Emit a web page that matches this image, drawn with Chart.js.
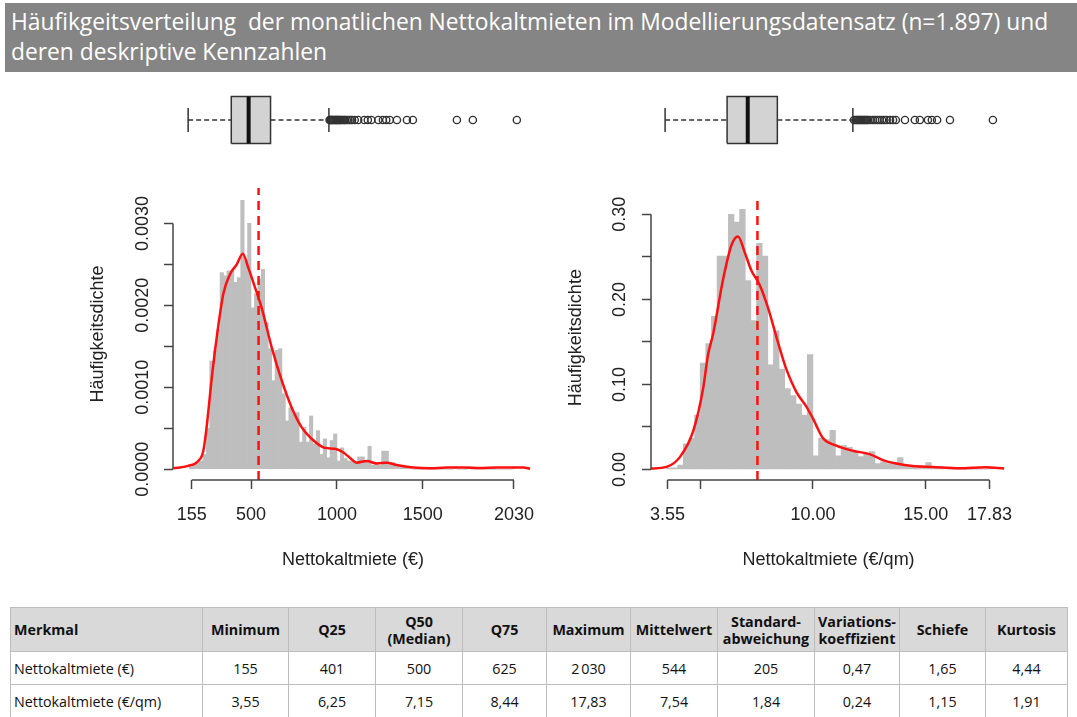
<!DOCTYPE html>
<html lang="de">
<head>
<meta charset="utf-8">
<title>Häufigkeitsverteilung Nettokaltmieten</title>
<script src="https://cdn.jsdelivr.net/npm/chart.js@4.4.1/dist/chart.umd.min.js"></script>
<style>
  body { margin:0; background:#fff; width:1077px; height:717px; position:relative; overflow:hidden; }
  #title { position:absolute; left:5px; top:3px; width:1072px; height:69px; box-sizing:border-box; padding:4px 0 0 6px;
           background:#858585; color:#fff; font-family:"Open Sans", sans-serif; font-size:22.8px; line-height:30px; white-space:pre; }
  canvas { position:absolute; }
  #stats { position:absolute; left:10px; top:607px; border-collapse:collapse; table-layout:fixed;
           font-family:"Open Sans", sans-serif; font-size:14.3px; color:#111; }
  #stats td, #stats th { border:1.5px solid #bdbdbd; text-align:center; padding:0 3px; }
  #stats th { background:#d9d9d9; height:43px; font-weight:bold; line-height:17px; }
  #stats td { height:32px; }
  #stats .l { text-align:left; }
</style>
</head>
<body>
<div id="title">Häufikgeitsverteilung  der monatlichen Nettokaltmieten im Modellierungsdatensatz (n=1.897) und
deren deskriptive Kennzahlen</div>

<canvas id="boxEur" width="355" height="60" style="left:175px;top:90px"></canvas>
<canvas id="boxQm" width="354" height="60" style="left:652px;top:90px"></canvas>
<canvas id="histEur" width="490" height="400" style="left:60px;top:180px"></canvas>
<canvas id="histQm" width="490" height="400" style="left:538px;top:180px"></canvas>

<table id="stats">
  <colgroup>
    <col style="width:192px"><col style="width:86px"><col style="width:87px"><col style="width:87px"><col style="width:84px">
    <col style="width:84px"><col style="width:87px"><col style="width:97px"><col style="width:84px"><col style="width:86px"><col style="width:82px">
  </colgroup>
  <tr><th class="l">Merkmal</th><th>Minimum</th><th>Q25</th><th>Q50<br>(Median)</th><th>Q75</th><th>Maximum</th><th>Mittelwert</th><th>Standard-<br>abweichung</th><th>Variations-<br>koeffizient</th><th>Schiefe</th><th>Kurtosis</th></tr>
  <tr><td class="l">Nettokaltmiete (€)</td><td>155</td><td>401</td><td>500</td><td>625</td><td>2&#8239;030</td><td>544</td><td>205</td><td>0,47</td><td>1,65</td><td>4,44</td></tr>
  <tr><td class="l">Nettokaltmiete (€/qm)</td><td>3,55</td><td>6,25</td><td>7,15</td><td>8,44</td><td>17,83</td><td>7,54</td><td>1,84</td><td>0,24</td><td>1,15</td><td>1,91</td></tr>
</table>

<script>
// Nettokaltmiete (€): histogram classes (centres, width 20) and density
const eurBins = [150, 170, 190, 210, 230, 250, 270, 290, 310, 330, 350, 370, 390, 410, 430, 450, 470, 490, 510, 530,
  550, 570, 590, 610, 630, 650, 670, 690, 710, 730, 750, 770, 790, 810, 830, 850, 870, 890, 910, 930,
  950, 970, 990, 1010, 1030, 1050, 1070, 1090, 1110, 1130, 1150, 1170, 1190, 1210, 1230, 1250, 1270, 1290, 1310, 1330,
  1350, 1370, 1390, 1410, 1430, 1450, 1470, 1490, 1510, 1530, 1550, 1570, 1590, 1610, 1630, 1650, 1670, 1690, 1710, 1730,
  1750, 1770, 1790, 1810, 1830, 1850, 1870, 1890, 1910, 1930, 1950, 1970, 1990, 2010, 2030];
const eurDensity = [0.00003, 0.00005, 0.00008, 0.0001, 0.00018, 0.0005, 0.00132, 0.00145, 0.0017, 0.0024,
  0.00236, 0.00242, 0.00242, 0.00228, 0.00234, 0.00328, 0.00254, 0.0030, 0.00197, 0.00214,
  0.00232, 0.00244, 0.00179, 0.00147, 0.00108, 0.00145, 0.00147, 0.00092, 0.00059, 0.00075,
  0.00067, 0.00069, 0.00033, 0.00051, 0.00033, 0.00065, 0.00031, 0.00047, 0.00018, 0.00037,
  0.00014, 0.00035, 0.00043, 0.0001, 0.00026, 0.00013, 0.0001, 0.0001, 0.00008, 0.00015,
  0.00015, 0.0001, 0.00028, 0.00005, 0.00008, 0.00005, 0.00022, 0.00022, 0.00008, 0.00008,
  0.00005, 0.00003, 0.00005, 0.00003, 0.00003, 0, 0, 0, 0, 0,
  0, 0, 0, 0, 0, 0, 0, 0.00003, 0, 0,
  0, 0.00003, 0, 0, 0, 0, 0, 0, 0, 0,
  0, 0, 0, 0, 0.00003];
// kernel density estimate (red curve)
const eurKdeX = [47, 134, 193, 222, 241, 270, 300, 339, 378, 417, 452, 484, 523, 562, 620, 679, 737, 795, 853, 930,
  988, 1040, 1075, 1116, 1173, 1232, 1290, 1348, 1445, 1542, 1639, 1740, 1833, 1930, 1988, 2085, 2124];
const eurKdeY = [0.00001, 0.00004, 0.0001, 0.00022, 0.0005, 0.00108, 0.0016, 0.00214, 0.00238, 0.0025,
  0.00263, 0.00246, 0.00222, 0.00197, 0.00149, 0.00108, 0.00075, 0.00051, 0.00037, 0.00026,
  0.00025, 0.0002, 0.00014, 0.00008, 0.0001, 0.00007, 0.00008, 0.00005, 0.00002, 0.00001,
  0.00002, 0.00002, 0.000015, 0.00002, 0.00002, 0.00002, 0.000005];
const eurMean = 544;
const eurXTicks = [155, 500, 1000, 1500, 2030];
const eurXLabels = ['155', '500', '1000', '1500', '2030'];
const eurYTicks = [0, 0.0005, 0.001, 0.0015, 0.002, 0.0025, 0.003];
const eurYLabels = ['0.0000', '', '0.0010', '', '0.0020', '', '0.0030'];
// boxplot: lower whisker, Q25, median, Q75, upper whisker
const eurBox = [155, 401, 500, 625, 958];
const eurOutliers = [962, 966, 970, 975, 980, 985, 990, 995, 1000, 1005, 1010, 1015, 1020, 1025, 1030, 1040, 1045,
  1050, 1060, 1070, 1080, 1090, 1105, 1125, 1160, 1180, 1200, 1240, 1266, 1285, 1305, 1346, 1403, 1437,
  1688, 1779, 2030];

// Nettokaltmiete (€/qm): histogram classes (centres, width 0.25) and density
const qmBins = [3.625, 3.875, 4.125, 4.375, 4.625, 4.875, 5.125, 5.375, 5.625, 5.875,
  6.125, 6.375, 6.625, 6.875, 7.125, 7.375, 7.625, 7.875, 8.125, 8.375,
  8.625, 8.875, 9.125, 9.375, 9.625, 9.875, 10.125, 10.375, 10.625, 10.875,
  11.125, 11.375, 11.625, 11.875, 12.125, 12.375, 12.625, 12.875, 13.125, 13.375,
  13.625, 13.875, 14.125, 14.375, 14.625, 14.875, 15.125, 15.375, 15.625, 15.875,
  16.125, 16.375, 16.625, 16.875, 17.125, 17.375, 17.625, 17.875];
const qmDensity = [0.002, 0.002, 0.005, 0.03, 0.037, 0.064, 0.125, 0.148, 0.18, 0.251,
  0.251, 0.30, 0.291, 0.306, 0.222, 0.175, 0.266, 0.251, 0.123, 0.163,
  0.118, 0.095, 0.087, 0.077, 0.064, 0.135, 0.016, 0.037, 0.035, 0.046,
  0.016, 0.028, 0.026, 0.02, 0.015, 0.018, 0.021, 0.007, 0.009, 0.007,
  0.008, 0.014, 0.004, 0.003, 0.002, 0.002, 0.008, 0.002, 0.0015, 0.0015,
  0, 0, 0, 0, 0, 0, 0, 0.002];
const qmKdeX = [2.77, 3.51, 4.10, 4.69, 5.13, 5.35, 5.58, 6.02, 6.39, 6.68, 6.98, 7.27, 7.64, 8.01, 8.38, 8.67,
  8.82, 9.27, 9.71, 10.0, 10.44, 11.04, 11.77, 12.51, 13.1, 13.69, 14.42, 15.31, 16.49, 17.67, 18.48];
const qmKdeY = [0.001, 0.003, 0.0145, 0.045, 0.095, 0.135, 0.16, 0.224, 0.264, 0.274, 0.255, 0.234, 0.217, 0.19, 0.156, 0.13,
  0.118, 0.091, 0.074, 0.06, 0.037, 0.028, 0.022, 0.018, 0.011, 0.007, 0.004, 0.003, 0.0015, 0.0027, 0.001];
const qmMean = 7.54;
const qmXTicks = [3.55, 5, 10, 15, 17.83];
const qmXLabels = ['3.55', '', '10.00', '15.00', '17.83'];
const qmYTicks = [0, 0.05, 0.1, 0.15, 0.2, 0.25, 0.3];
const qmYLabels = ['0.00', '', '0.10', '', '0.20', '', '0.30'];
const qmBox = [3.55, 6.25, 7.15, 8.44, 11.73];
const qmOutliers = [11.78, 11.85, 11.9, 11.95, 12.0, 12.05, 12.1, 12.15, 12.2, 12.25, 12.3, 12.35, 12.4, 12.5,
  12.6, 12.7, 12.8, 12.9, 13.0, 13.1, 13.2, 13.35, 13.48, 13.6, 14.0, 14.43, 14.65, 15.0, 15.17, 15.4, 15.96, 17.83];

const rFont = '"Liberation Sans", Arial, sans-serif';
const textColor = '#222';
const axisColor = '#444';

// R-style axes: line only from first to last tick
const rAxisLines = {
  id: 'rAxisLines',
  afterDraw(chart) {
    const {ctx, scales: {x, y}} = chart;
    ctx.save();
    ctx.strokeStyle = axisColor;
    ctx.lineWidth = 1.5;
    ctx.beginPath();
    ctx.moveTo(x.getPixelForValue(x.ticks[0].value), x.top);
    ctx.lineTo(x.getPixelForValue(x.ticks[x.ticks.length - 1].value), x.top);
    ctx.moveTo(y.right, y.getPixelForValue(y.ticks[0].value));
    ctx.lineTo(y.right, y.getPixelForValue(y.ticks[y.ticks.length - 1].value));
    ctx.stroke();
    ctx.restore();
  }
};

function histChart(id, o) {
  const font = {family: rFont, size: 18};
  const grid = {offset: false, drawOnChartArea: false, drawTicks: true, tickLength: 9, tickColor: axisColor, tickWidth: 1.5};
  return new Chart(document.getElementById(id), {
    type: 'bar',
    data: {
      datasets: [
        {type: 'line', data: [{x: o.mean, y: o.yMin}, {x: o.mean, y: o.yMax}],
          borderColor: '#ff1010', borderWidth: 2.5, borderDash: [9, 6], pointRadius: 0},
        {type: 'line', data: o.kdeX.map((x, i) => ({x: x, y: o.kdeY[i]})),
          borderColor: '#ff1010', borderWidth: 2.5, pointRadius: 0, cubicInterpolationMode: 'monotone'},
        {type: 'bar', data: o.bins.map((x, i) => ({x: x, y: o.density[i]})),
          backgroundColor: '#bebebe', borderWidth: 0, barPercentage: 1, categoryPercentage: 1}
      ]
    },
    options: {
      responsive: false, animation: false, events: [],
      layout: {autoPadding: false, padding: {top: 8, right: o.padRight, bottom: 0, left: 0}},
      plugins: {legend: {display: false}, tooltip: {enabled: false}},
      scales: {
        x: {
          type: 'linear', min: o.xMin, max: o.xMax, offset: false,
          afterBuildTicks: s => { s.ticks = o.xTicks.map(v => ({value: v})); },
          afterFit: s => { s.height = 100; },
          grid: grid, border: {display: false},
          ticks: {autoSkip: false, maxRotation: 0, padding: 15, color: textColor, font: font,
            callback: (v, i) => o.xLabels[i]},
          title: {display: true, text: o.xTitle, color: textColor, font: font, padding: {top: 0, bottom: 9}}
        },
        y: {
          min: o.yMin, max: o.yMax,
          afterBuildTicks: s => { s.ticks = o.yTicks.map(v => ({value: v})); },
          afterFit: s => { s.width = 113; },
          grid: grid, border: {display: false},
          ticks: {autoSkip: false, minRotation: 90, maxRotation: 90, crossAlign: 'center', padding: o.yPad,
            color: textColor, font: font, callback: (v, i) => o.yLabels[i]},
          title: {display: true, text: 'Häufigkeitsdichte', color: textColor, font: font, padding: {top: 27.5, bottom: 0}}
        }
      }
    },
    plugins: [rAxisLines]
  });
}

function boxChart(id, stats, outliers, xMin, xMax) {
  const [lo, q1, med, q3, hi] = stats;
  const boxHalf = 0.78, capHalf = 0.4;
  const seg = (pts, extra) => Object.assign({data: pts, showLine: true, pointRadius: 0,
    borderColor: '#333', borderWidth: 1.5}, extra || {});
  return new Chart(document.getElementById(id), {
    type: 'scatter',
    data: {
      datasets: [
        {data: outliers.map(x => ({x: x, y: 0})), pointRadius: 3.6, pointBorderWidth: 1.4,
          pointBorderColor: '#333', pointBackgroundColor: 'rgba(0,0,0,0)'},
        seg([{x: med, y: -boxHalf}, {x: med, y: boxHalf}], {borderWidth: 4, borderColor: '#111'}),
        seg([{x: lo, y: -capHalf}, {x: lo, y: capHalf}]),
        seg([{x: hi, y: -capHalf}, {x: hi, y: capHalf}]),
        seg([{x: lo, y: 0}, {x: q1, y: 0}], {borderDash: [5, 3]}),
        seg([{x: q3, y: 0}, {x: hi, y: 0}], {borderDash: [5, 3]}),
        seg([{x: q1, y: -boxHalf}, {x: q3, y: -boxHalf}, {x: q3, y: boxHalf}, {x: q1, y: boxHalf}, {x: q1, y: -boxHalf}],
          {fill: 'shape', backgroundColor: '#d3d3d3'})
      ]
    },
    options: {
      responsive: false, animation: false, events: [],
      layout: {autoPadding: false, padding: 0},
      plugins: {legend: {display: false}, tooltip: {enabled: false}},
      scales: {
        x: {type: 'linear', min: xMin, max: xMax, display: false},
        y: {type: 'linear', min: -1, max: 1, display: false}
      }
    }
  });
}

boxChart('boxEur', eurBox, eurOutliers, 80, 2105);
boxChart('boxQm', qmBox, qmOutliers, 2.979, 18.401);

histChart('histEur', {
  bins: eurBins, density: eurDensity, kdeX: eurKdeX, kdeY: eurKdeY, mean: eurMean,
  xTicks: eurXTicks, xLabels: eurXLabels, yTicks: eurYTicks, yLabels: eurYLabels,
  xMin: 46, xMax: 2141, yMin: -0.000132, yMax: 0.003432, padRight: 17, yPad: -6.5,
  xTitle: 'Nettokaltmiete (€)'
});
histChart('histQm', {
  bins: qmBins, density: qmDensity, kdeX: qmKdeX, kdeY: qmKdeY, mean: qmMean,
  xTicks: qmXTicks, xLabels: qmXLabels, yTicks: qmYTicks, yLabels: qmYLabels,
  xMin: 2.82, xMax: 18.57, yMin: -0.0124, yMax: 0.3224, padRight: 21, yPad: 4.5,
  xTitle: 'Nettokaltmiete (€/qm)'
});
</script>
</body>
</html>
